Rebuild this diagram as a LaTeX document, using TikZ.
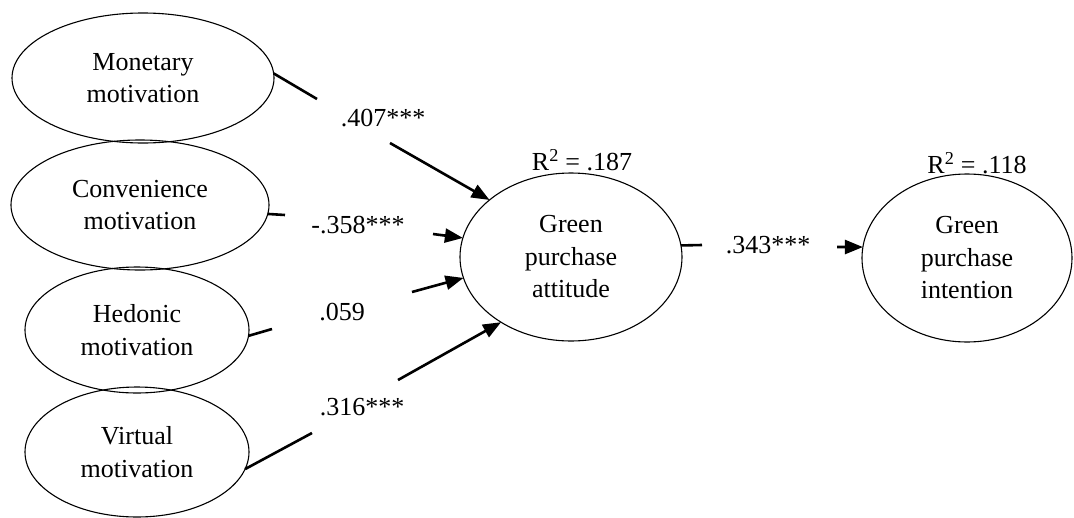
\documentclass[tikz,border=0pt]{standalone}
\usepackage{fontspec}
\setmainfont{Liberation Serif}
\usetikzlibrary{arrows.meta,shapes.geometric}
\begin{document}
\begin{tikzpicture}[x=1pt,y=-1pt,
  latent/.style={draw, ellipse, line width=1.1pt, inner sep=0pt, outer sep=0pt,
    align=center, font=\fontsize{26}{32.5}\selectfont},
  lbl/.style={font=\fontsize{26}{30}\selectfont, inner sep=0pt},
  stub/.style={line width=2.6pt},
  effect/.style={line width=2.6pt, -{Triangle[length=18pt,width=14pt]}}]
\useasboundingbox (0,0) rectangle (1074,517);

% latent variables
\node[latent, minimum width=262pt, minimum height=130pt] (mon) at (143,78) {Monetary\\motivation};
\node[latent, minimum width=258pt, minimum height=130pt] (con) at (140,205) {Convenience\\motivation};
\node[latent, minimum width=224pt, minimum height=126pt] (hed) at (137,330) {Hedonic\\motivation};
\node[latent, minimum width=224pt, minimum height=130pt] (vir) at (137,452) {Virtual\\motivation};
\node[latent, minimum width=222pt, minimum height=168pt] (att) at (571,257) {Green\\purchase\\attitude};
\node[latent, minimum width=210pt, minimum height=168pt] (int) at (967,258) {Green\\purchase\\intention};

% R squared
\node[lbl] (r1) at (582,160) {R\textsuperscript{2} = .187};
\node[lbl] (r2) at (977,163) {R\textsuperscript{2} = .118};

% free ends of the paths
\coordinate (m1) at (317,99);  \coordinate (m2) at (390,143);
\coordinate (c1) at (285,215); \coordinate (c2) at (433,234);
\coordinate (h1) at (272,329); \coordinate (h2) at (412,292);
\coordinate (v1) at (312,433); \coordinate (v2) at (398,380);
\coordinate (a1) at (702,245); \coordinate (a2) at (837,247);

% coefficients
\node[lbl] (lm) at (383,118) {.407***};
\node[lbl] (lc) at (358,225) {-.358***};
\node[lbl] (lh) at (342,312) {.059};
\node[lbl] (lv) at (362,407) {.316***};
\node[lbl] (la) at (768,245) {.343***};

% paths
\draw[stub] (mon.2) -- (m1);
\draw[effect] (m2) -- (att.145);
\draw[stub] (con.-4) -- (c1);
\draw[effect] (c2) -- (att.170);
\draw[stub] (hed.-3) -- (h1);
\draw[effect] (h2) -- (att.-169);
\draw[stub] (vir.-9) -- (v1);
\draw[effect] (v2) -- (att.-137.5);
\draw[stub] (att.6) -- (a1);
\draw[effect] (a2) -- (int.174);
\end{tikzpicture}
\end{document}
